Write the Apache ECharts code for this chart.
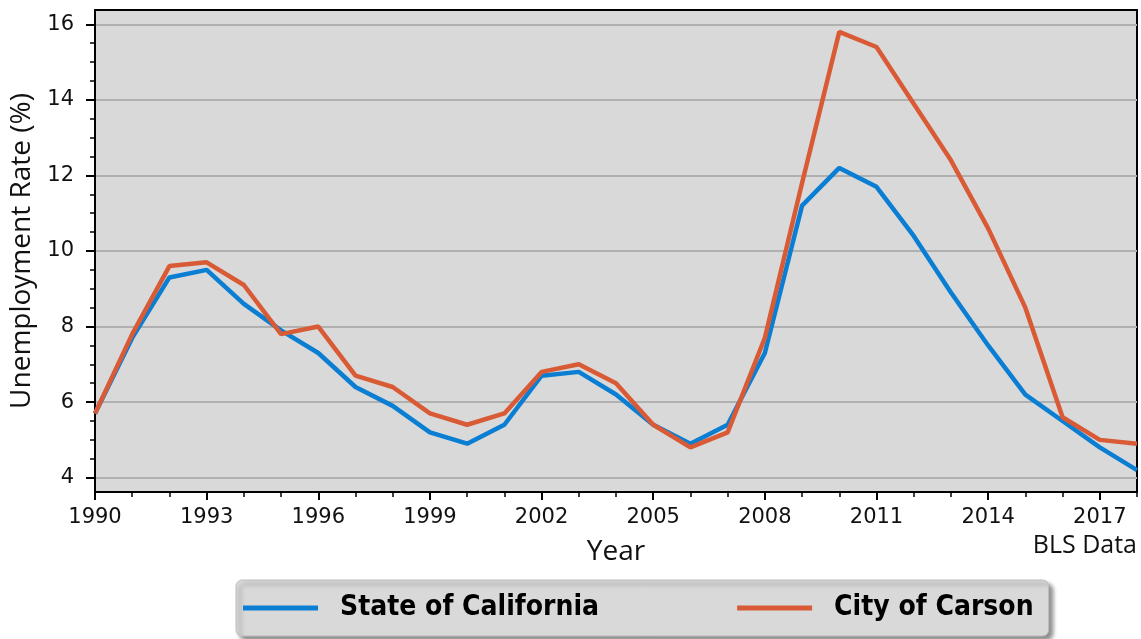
<!DOCTYPE html>
<html>
<head>
<meta charset="utf-8">
<script src="https://cdn.jsdelivr.net/npm/echarts@6/dist/echarts.min.js"></script>
<style>
  html, body { margin: 0; padding: 0; background: #fff; }
  #chart { width: 1141px; height: 639px; }
</style>
</head>
<body>
<div id="chart"></div>
<script>
// data
const years = [1990, 1991, 1992, 1993, 1994, 1995, 1996, 1997, 1998, 1999,
               2000, 2001, 2002, 2003, 2004, 2005, 2006, 2007, 2008, 2009,
               2010, 2011, 2012, 2013, 2014, 2015, 2016, 2017, 2018];
const california = [5.7, 7.7, 9.3, 9.5, 8.6, 7.9, 7.3, 6.4, 5.9, 5.2,
                    4.9, 5.4, 6.7, 6.8, 6.2, 5.4, 4.9, 5.4, 7.3, 11.2,
                    12.2, 11.7, 10.4, 8.9, 7.5, 6.2, 5.5, 4.8, 4.2];
const carson = [5.7, 7.8, 9.6, 9.7, 9.1, 7.8, 8.0, 6.7, 6.4, 5.7,
                5.4, 5.7, 6.8, 7.0, 6.5, 5.4, 4.8, 5.2, 7.7, 11.8,
                15.8, 15.4, 13.9, 12.4, 10.6, 8.5, 5.6, 5.0, 4.9];

const xMajor = [1990, 1993, 1996, 1999, 2002, 2005, 2008, 2011, 2014, 2017];
const xMinor = [1991, 1992, 1994, 1995, 1997, 1998, 2000, 2001, 2003, 2004,
                2006, 2007, 2009, 2010, 2012, 2013, 2015, 2016, 2018];
const yMajor = [4, 6, 8, 10, 12, 14, 16];
const yMinor = [4.5, 5, 5.5, 6.5, 7, 7.5, 8.5, 9, 9.5, 10.5, 11, 11.5,
                12.5, 13, 13.5, 14.5, 15, 15.5];

const tickFont = 'DejaVu Sans';
const labelFont = 'Open Sans';

const chart = echarts.init(document.getElementById('chart'));

const pairs = (vals) => years.map((y, i) => [y, vals[i]]);

let option = {
  animation: false,
  grid: {
    left: 95, right: 4, top: 10, bottom: 147,
    outerBoundsMode: 'none',
    show: true,
    backgroundColor: '#d9d9d9',
    borderColor: '#000',
    borderWidth: 2
  },
  xAxis: [
    {
      type: 'value', min: 1990, max: 2018,
      name: 'Year', nameLocation: 'middle', nameGap: 46,
      nameTextStyle: { fontFamily: labelFont, fontSize: 28, color: '#111' },
      axisLine: { show: true, lineStyle: { color: '#000', width: 2 } },
      axisTick: { show: true, customValues: xMajor, length: 8, lineStyle: { color: '#000', width: 2 } },
      axisLabel: {
        customValues: xMajor, margin: 15, fontFamily: tickFont, fontSize: 21, color: '#111',
        formatter: (v) => String(v)
      },
      splitLine: { show: false }
    },
    {
      type: 'value', min: 1990, max: 2018,
      position: 'bottom',
      axisLine: { show: false },
      axisTick: { show: true, customValues: xMinor, length: 5, lineStyle: { color: '#000', width: 1.5 } },
      axisLabel: { show: false },
      splitLine: { show: false }
    }
  ],
  yAxis: [
    {
      type: 'value', min: 3.62, max: 16.38,
      name: 'Unemployment Rate (%)', nameLocation: 'middle', nameGap: 58,
      nameTextStyle: { fontFamily: labelFont, fontSize: 28, color: '#111' },
      axisLine: { show: true, lineStyle: { color: '#000', width: 2 } },
      axisTick: { show: true, customValues: yMajor, length: 9, lineStyle: { color: '#000', width: 2 } },
      axisLabel: { customValues: yMajor, margin: 21, fontFamily: tickFont, fontSize: 21, color: '#111' },
      splitLine: { show: true, lineStyle: { color: '#b0b0b0', width: 2 } }
    },
    {
      type: 'value', min: 3.62, max: 16.38,
      position: 'left',
      axisLine: { show: false },
      axisTick: { show: true, customValues: yMinor, length: 5, lineStyle: { color: '#000', width: 1.5 } },
      axisLabel: { show: false },
      splitLine: { show: false }
    }
  ],
  legend: {
    left: 236, top: 580,
    padding: [14, 15, 14, 7],
    icon: 'rect',
    itemWidth: 75, itemHeight: 5, itemGap: 138,
    backgroundColor: '#d9d9d9',
    borderColor: '#bdbdbd', borderWidth: 1, borderRadius: 6,
    shadowColor: 'rgba(0,0,0,0.45)', shadowBlur: 4, shadowOffsetX: 4, shadowOffsetY: 4,
    textStyle: {
      fontFamily: '"Liberation Sans Narrow", "DejaVu Sans Condensed", sans-serif',
      fontWeight: 'bold', fontSize: 28, color: '#000',
      padding: [0, 0, 0, 17]
    },
    data: ['State of California', 'City of Carson']
  },
  graphic: [
    {
      type: 'text', right: 4, top: 533,
      style: { text: 'BLS Data', fontFamily: labelFont, fontSize: 25, fill: '#111' }
    }
  ],
  series: [
    {
      name: 'State of California', type: 'line',
      data: pairs(california),
      showSymbol: false,
      lineStyle: { color: '#0a7ed3', width: 4.5 },
      itemStyle: { color: '#0a7ed3' },
      z: 3
    },
    {
      name: 'City of Carson', type: 'line',
      data: pairs(carson),
      showSymbol: false,
      lineStyle: { color: '#d95b36', width: 4.5 },
      itemStyle: { color: '#d95b36' },
      z: 4
    }
  ]
};

option && chart.setOption(option);
</script>
</body>
</html>
